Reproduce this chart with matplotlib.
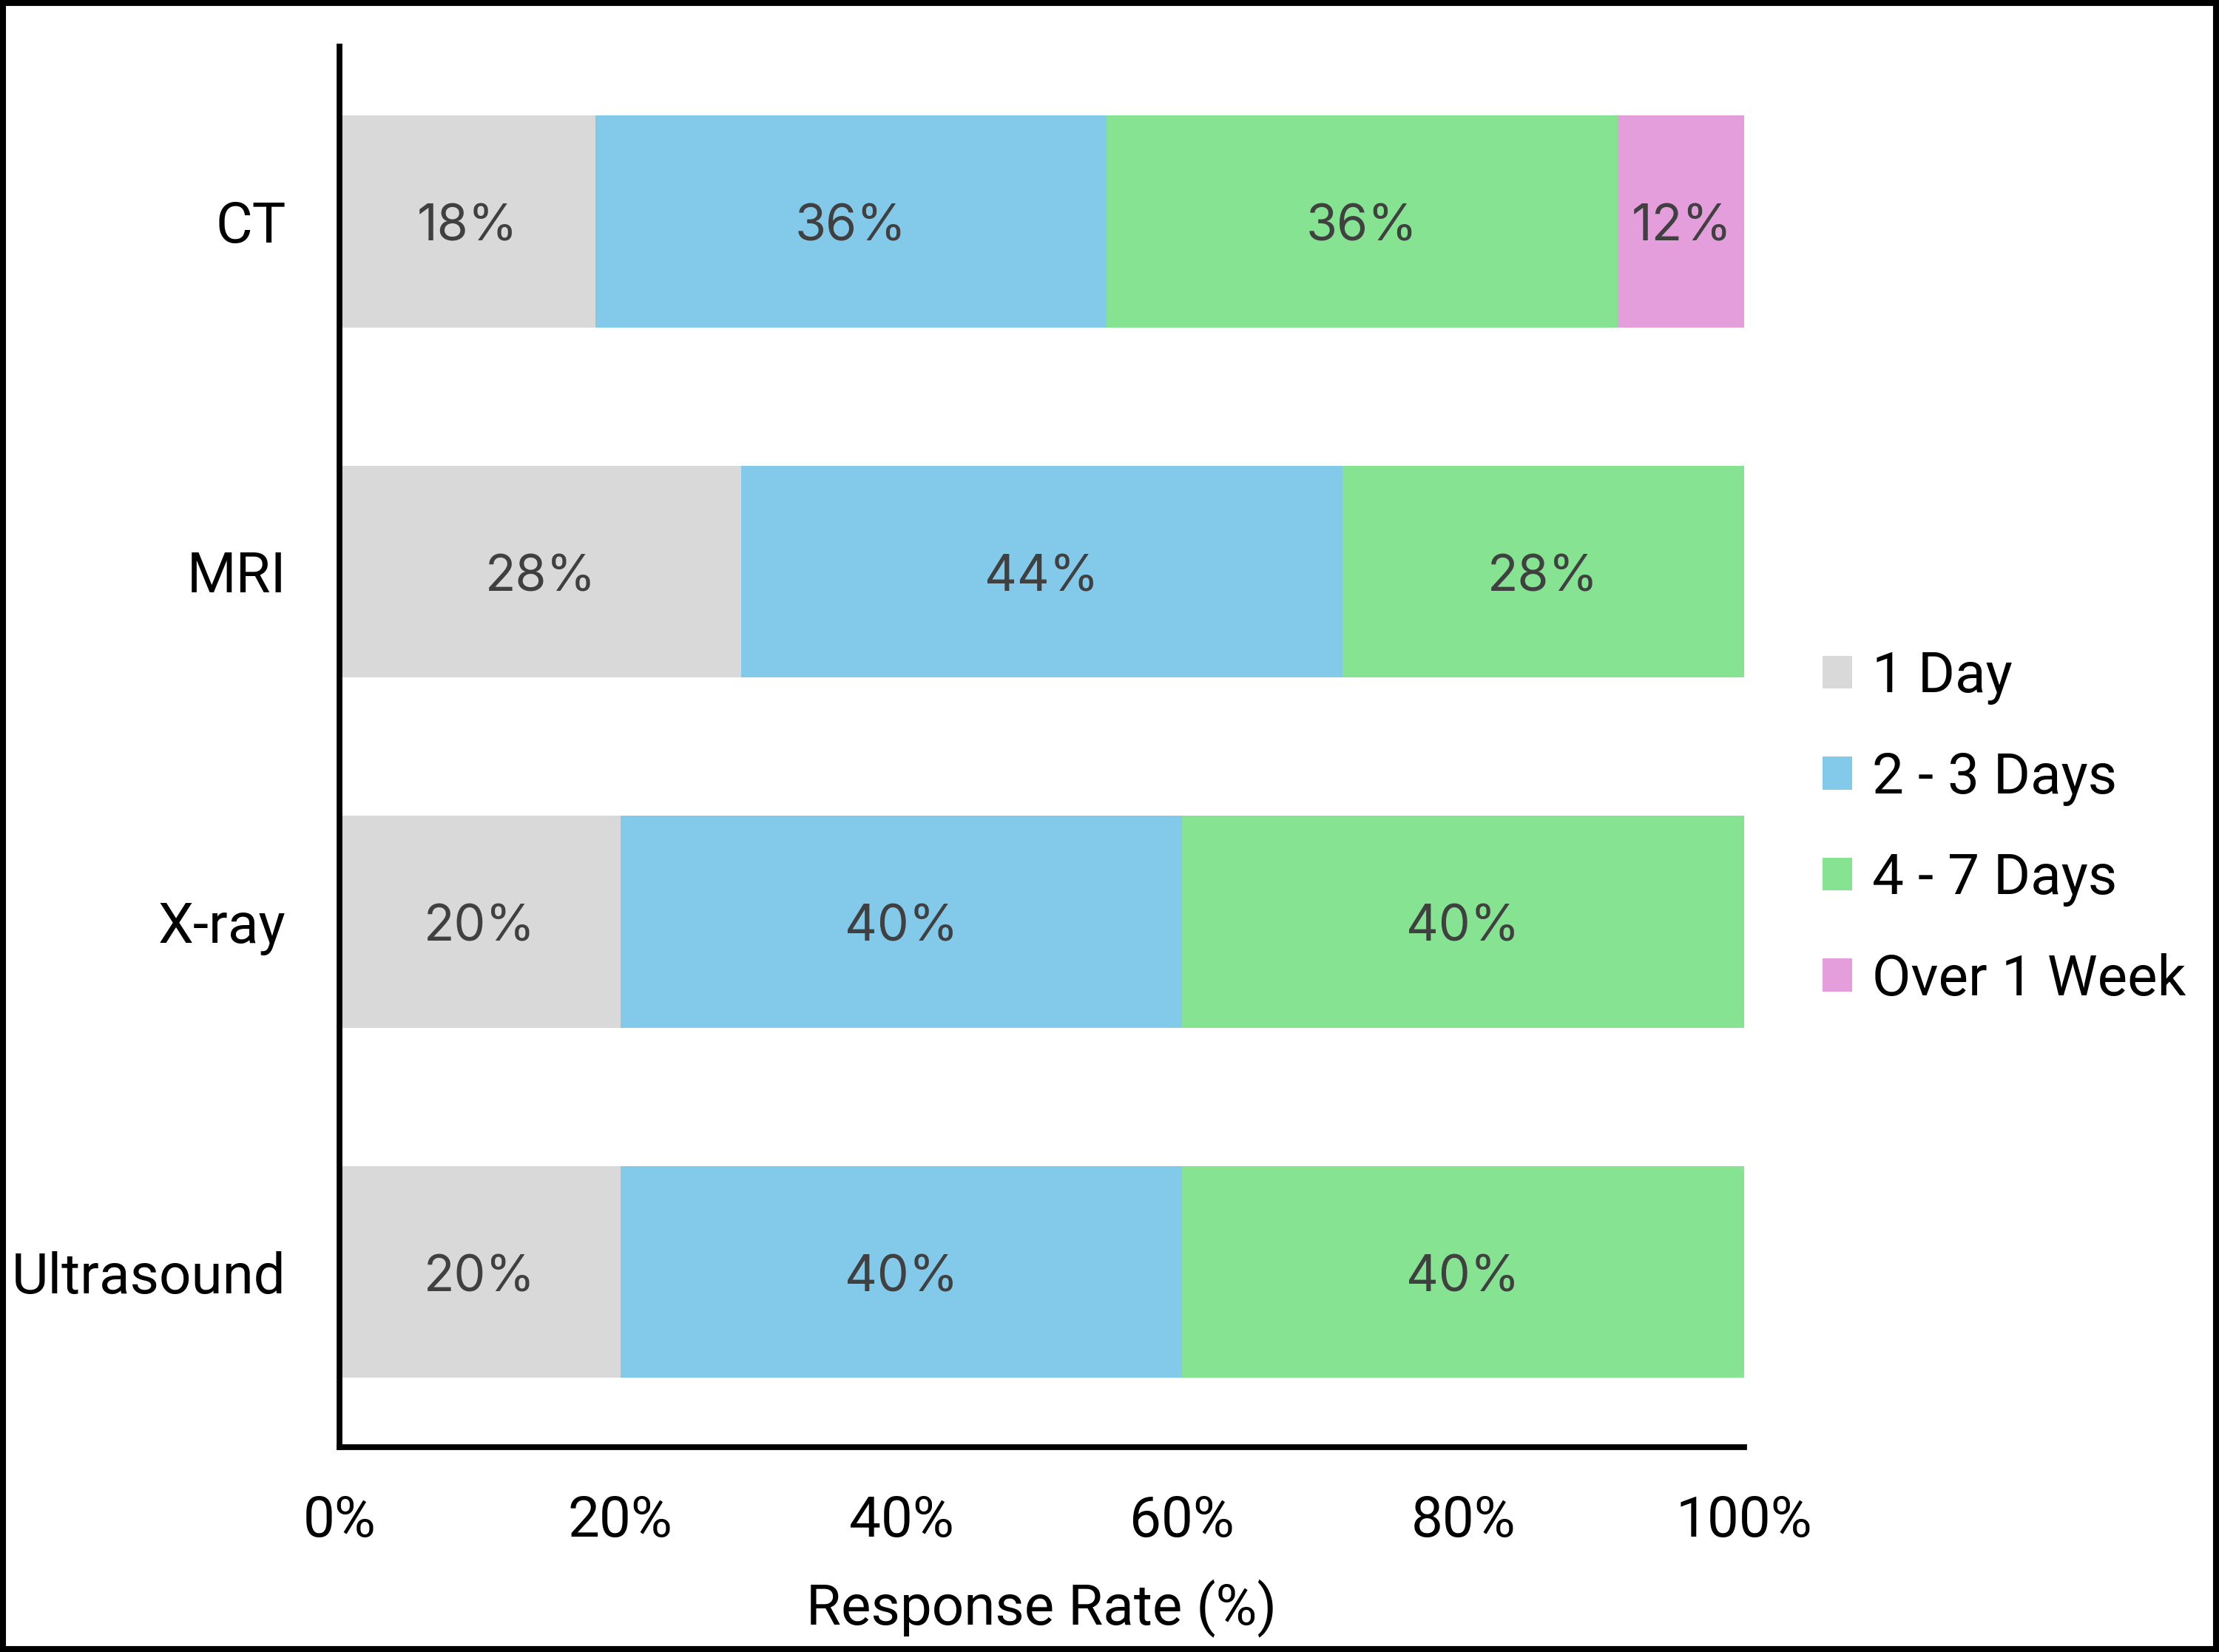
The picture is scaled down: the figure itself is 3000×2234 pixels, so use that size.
import matplotlib
matplotlib.use("Agg")
import matplotlib.pyplot as plt
import matplotlib.ticker as mticker
from matplotlib.patches import Rectangle
import numpy as np

plt.rcParams["font.family"] = ["Roboto", "DejaVu Sans"]

modalities = ["CT", "MRI", "X-ray", "Ultrasound"]
categories = ["1 Day", "2 - 3 Days", "4 - 7 Days", "Over 1 Week"]
colors = ["#D9D9D9", "#83CAEA", "#85E391", "#E49EDC"]

# segment widths as drawn (%), one list per response-time category
one_day = [18.2, 28.6, 20, 20]
two_three = [36.4, 42.8, 40, 40]
four_seven = [36.4, 28.6, 40, 40]
over_week = [9.1, 0, 0, 0]

# printed labels on the segments
lbl_one_day = ["18%", "28%", "20%", "20%"]
lbl_two_three = ["36%", "44%", "40%", "40%"]
lbl_four_seven = ["36%", "28%", "40%", "40%"]
lbl_over_week = ["12%", "", "", ""]

series = [one_day, two_three, four_seven, over_week]
labels = [lbl_one_day, lbl_two_three, lbl_four_seven, lbl_over_week]

FS = 27.5

fig = plt.figure(figsize=(15, 11.17), dpi=200)
ax = fig.add_axes([0.153, 0.124, 0.633, 0.848])

y = np.arange(len(modalities))
left = np.zeros(len(modalities))
for vals, lbls, col, name in zip(series, labels, colors, categories):
    vals = np.array(vals, dtype=float)
    bars = ax.barh(y, vals, left=left, height=0.605, color=col, label=name,
                   edgecolor="none", zorder=2)
    for rect, v, t in zip(bars, vals, lbls):
        if v > 0 and t:
            ax.annotate(t, (rect.get_x() + rect.get_width() / 2,
                            rect.get_y() + rect.get_height() / 2),
                        xytext=(0, -9.5), textcoords="offset points",
                        ha="center", va="baseline", fontsize=24.5,
                        color="#404040", family=["Inter", "Roboto"])
    left += vals

ax.set_xlim(0, 100)
ax.set_ylim(3.5, -0.5)
ax.set_yticks(y)
ax.set_yticklabels(modalities, fontsize=FS)
ax.set_xticks([0, 20, 40, 60, 80, 100])
ax.xaxis.set_major_formatter(mticker.PercentFormatter(decimals=0))
ax.tick_params(axis="x", length=0, labelsize=FS, pad=23)
ax.tick_params(axis="y", length=0, pad=26)
ax.set_xlabel("Response Rate (%)", fontsize=FS, labelpad=15)

for s in ["top", "right"]:
    ax.spines[s].set_visible(False)
ax.spines["left"].set_linewidth(2.8)
ax.spines["bottom"].set_linewidth(2.8)

ax.legend(loc="center left", bbox_to_anchor=(0.8213, 0.4985),
          bbox_transform=fig.transFigure, frameon=False, fontsize=FS,
          borderpad=0, borderaxespad=0, handlelength=0.52, handleheight=0.52,
          handletextpad=0.36, labelspacing=0.82)

fig.patches.append(Rectangle((0, 0), 1, 1, transform=fig.transFigure,
                             fill=False, edgecolor="black", linewidth=5.8))

fig.savefig("out.png", dpi=200)
